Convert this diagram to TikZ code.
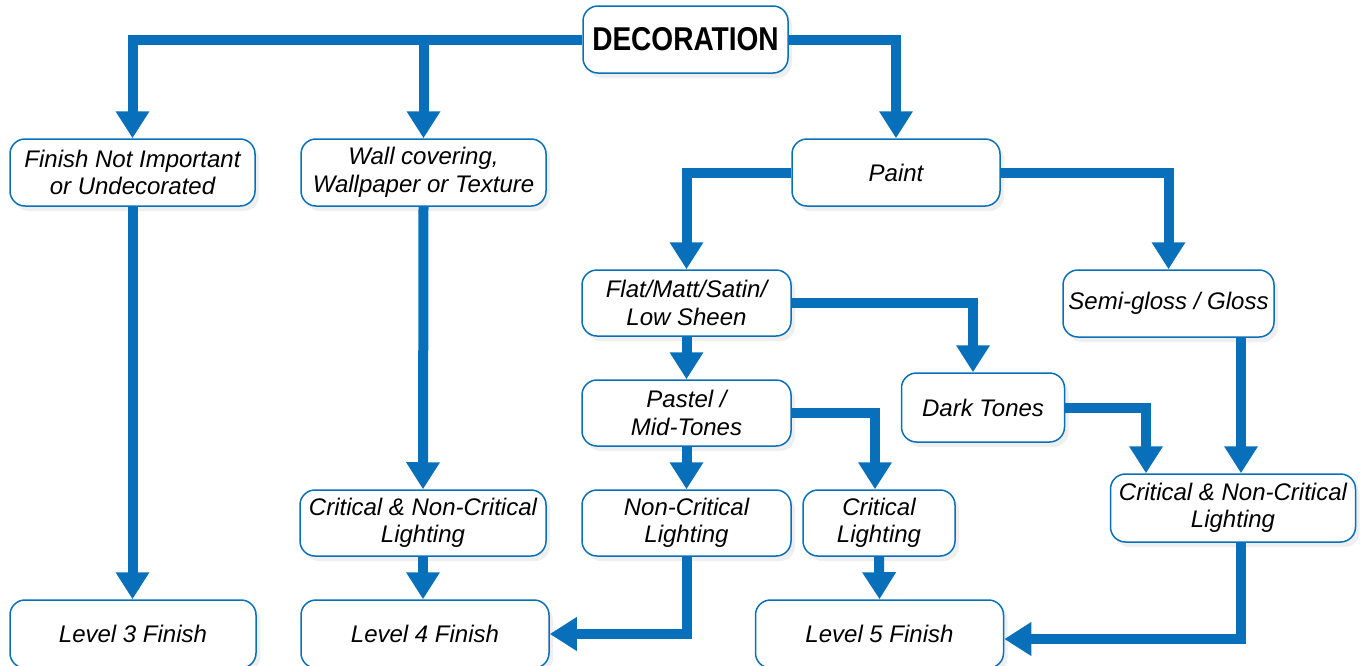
\documentclass[tikz,border=0pt]{standalone}
\usepackage{fontspec}
\setmainfont{Liberation Sans}
\newfontfamily\decfont{Liberation Sans}[FakeStretch=0.85]
\usetikzlibrary{arrows.meta,shadows,calc}
\definecolor{flowblue}{RGB}{8,112,186}
\tikzset{
  box/.style={draw=flowblue, line width=1.5pt, fill=white, rounded corners=15pt,
    align=center, inner sep=0pt,
    font=\fontsize{24}{27.5}\selectfont\itshape,
    drop shadow={opacity=0.13, shadow xshift=4pt, shadow yshift=-5pt}},
  conn/.style={draw=flowblue, line width=10pt,
    -{Triangle[width=32pt,length=27pt]}},
}
\begin{document}
\begin{tikzpicture}[x=1pt,y=-1pt]
\useasboundingbox (0,0) rectangle (1363,665);
% nodes
\node[box, minimum width=205pt, minimum height=67pt, font=\fontsize{33}{36}\selectfont\decfont\bfseries] (dec) at (685.5,39.5) {DECORATION};
\node[box, minimum width=245pt, minimum height=67pt] (fin) at (132.5,172.5) {Finish Not Important\\or Undecorated};
\node[box, minimum width=245pt, minimum height=67pt] (wall) at (423.5,172.5) {Wall covering,\\Wallpaper or Texture};
\node[box, minimum width=208pt, minimum height=67pt] (paint) at (896,172.5) {Paint};
\node[box, minimum width=209pt, minimum height=66pt] (flat) at (686.5,303) {Flat/Matt/Satin/\\Low Sheen};
\node[box, minimum width=211pt, minimum height=67pt] (semi) at (1168.5,303.5) {Semi-gloss / Gloss};
\node[box, minimum width=209pt, minimum height=66pt] (pastel) at (686.5,413) {Pastel /\\Mid-Tones};
\node[box, minimum width=163pt, minimum height=69pt] (dark) at (983,407.5) {Dark Tones};
\node[box, minimum width=246pt, minimum height=66pt] (critL) at (423,523) {Critical \& Non-Critical\\Lighting};
\node[box, minimum width=209pt, minimum height=66pt] (noncrit) at (686.5,523) {Non-Critical\\Lighting};
\node[box, minimum width=152pt, minimum height=66pt] (crit) at (879,523) {Critical\\Lighting};
\node[box, minimum width=245pt, minimum height=68pt] (critR) at (1233,508) {Critical \& Non-Critical\\Lighting};
\node[box, minimum width=246pt, minimum height=68pt] (lvl3) at (133,634) {Level 3 Finish};
\node[box, minimum width=248pt, minimum height=68pt] (lvl4) at (425,634) {Level 4 Finish};
\node[box, minimum width=248pt, minimum height=68pt] (lvl5) at (879.5,634) {Level 5 Finish};
% helper coordinates
\coordinate (darkin) at ([xshift=-10pt]dark.north);
\coordinate (critRa) at ([xshift=-87pt]critR.north);
\coordinate (critRb) at ([xshift=8pt]critR.north);
\coordinate (critRo) at ([xshift=8pt]critR.south);
% connectors
\draw[conn] (dec.west) -| (fin.north);
\draw[conn] (wall.north |- dec.west) -- (wall.north);
\draw[conn] (dec.east) -| (paint.north);
\draw[conn] (fin.south) -- (fin.south |- lvl3.north);
\draw[conn] (wall.south) -- (critL.north);
\draw[conn] (critL.south) -- (critL.south |- lvl4.north);
\draw[conn] (paint.west) -| (flat.north);
\draw[conn] (paint.east) -| (semi.north);
\draw[conn] (flat.south) -- (pastel.north);
\draw[conn] (flat.east) -| (darkin);
\draw[conn] (pastel.south) -- (noncrit.north);
\draw[conn] (pastel.east) -| ([xshift=-4pt]crit.north);
\draw[conn] (dark.east) -| (critRa);
\draw[conn] (critRb |- semi.south) -- (critRb);
\draw[conn] (noncrit.south) |- (lvl4.east);
\draw[conn] (crit.south) -- (lvl5.north);
\draw[conn] (critRo) |- ([yshift=-5pt]lvl5.east);
\end{tikzpicture}
\end{document}
